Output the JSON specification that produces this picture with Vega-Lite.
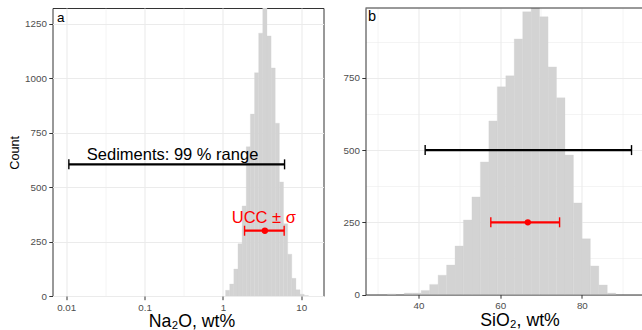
{
  "$schema": "https://vega.github.io/schema/vega-lite/v6.json",
  "padding": {"left": 7.5, "top": 7, "right": 0, "bottom": 0},
  "spacing": 18,
  "background": "white",
  "config": {
    "font": "Liberation Sans",
    "axis": {
      "labelFont": "Liberation Sans", "labelFontSize": 9.8, "labelColor": "#4D4D4D",
      "titleFont": "Liberation Sans", "titleFontWeight": "normal", "titleColor": "#000000",
      "tickColor": "#333333", "tickSize": 3.7, "tickWidth": 1, "labelPadding": 2.4,
      "gridColor": "#EBEBEB", "domainColor": "#333333", "domainWidth": 1
    },
    "view": {"stroke": "#333333", "strokeWidth": 1}
  },
  "datasets": {
    "na2o": [
      {"lo": 1.083, "hi": 1.223, "n": 26},
      {"lo": 1.223, "hi": 1.381, "n": 55},
      {"lo": 1.381, "hi": 1.560, "n": 124},
      {"lo": 1.560, "hi": 1.762, "n": 240},
      {"lo": 1.762, "hi": 1.990, "n": 414},
      {"lo": 1.990, "hi": 2.247, "n": 686},
      {"lo": 2.247, "hi": 2.538, "n": 836},
      {"lo": 2.538, "hi": 2.867, "n": 1026},
      {"lo": 2.867, "hi": 3.237, "n": 1208},
      {"lo": 3.237, "hi": 3.656, "n": 1400},
      {"lo": 3.656, "hi": 4.129, "n": 1195},
      {"lo": 4.129, "hi": 4.664, "n": 1048},
      {"lo": 4.664, "hi": 5.267, "n": 794},
      {"lo": 5.267, "hi": 5.949, "n": 524},
      {"lo": 5.949, "hi": 6.719, "n": 332},
      {"lo": 6.719, "hi": 7.589, "n": 192},
      {"lo": 7.589, "hi": 8.570, "n": 81},
      {"lo": 8.570, "hi": 9.678, "n": 29},
      {"lo": 9.678, "hi": 10.93, "n": 8},
      {"lo": 10.93, "hi": 12.35, "n": 2}
    ],
    "sio2": [
      {"lo": 32.374, "hi": 34.446, "n": 2},
      {"lo": 36.517, "hi": 38.589, "n": 5},
      {"lo": 38.589, "hi": 40.66, "n": 5},
      {"lo": 40.66, "hi": 42.732, "n": 14},
      {"lo": 42.732, "hi": 44.803, "n": 35},
      {"lo": 44.803, "hi": 46.875, "n": 67},
      {"lo": 46.875, "hi": 48.946, "n": 102},
      {"lo": 48.946, "hi": 51.018, "n": 168},
      {"lo": 51.018, "hi": 53.09, "n": 258},
      {"lo": 53.09, "hi": 55.161, "n": 338},
      {"lo": 55.161, "hi": 57.233, "n": 459},
      {"lo": 57.233, "hi": 59.304, "n": 601},
      {"lo": 59.304, "hi": 61.376, "n": 719},
      {"lo": 61.376, "hi": 63.448, "n": 757},
      {"lo": 63.448, "hi": 65.519, "n": 885},
      {"lo": 65.519, "hi": 67.591, "n": 979},
      {"lo": 67.591, "hi": 69.662, "n": 1010},
      {"lo": 69.662, "hi": 71.734, "n": 962},
      {"lo": 71.734, "hi": 73.806, "n": 788},
      {"lo": 73.806, "hi": 75.877, "n": 681},
      {"lo": 75.877, "hi": 77.949, "n": 483},
      {"lo": 77.949, "hi": 80.02, "n": 317},
      {"lo": 80.02, "hi": 82.092, "n": 193},
      {"lo": 82.092, "hi": 84.164, "n": 99},
      {"lo": 84.164, "hi": 86.235, "n": 33},
      {"lo": 86.235, "hi": 88.307, "n": 5}
    ],
    "barsA": [
      {"lo": 0.01081, "hi": 6.134, "mid": 0.2575, "y": 605, "color": "black"},
      {"lo": 1.892, "hi": 6.062, "mid": 3.437, "y": 300, "color": "red"}
    ],
    "barsB": [
      {"lo": 41.63, "hi": 92.17, "mid": 66.9, "y": 500, "color": "black"},
      {"lo": 57.71, "hi": 74.55, "mid": 66.77, "y": 250, "color": "red"}
    ],
    "textA": [
      {"x": 0.2279, "y": 627, "label": "Sediments: 99 % range", "color": "black"},
      {"x": 3.337, "y": 334, "label": "UCC ± σ", "color": "red"}
    ],
    "labA": [{"x": 0.006685, "y": 1323.5, "label": "a"}],
    "labB": [{"x": 27.02, "x2": 94.98, "y": 992, "label": "b"}]
  },
  "hconcat": [
    {
      "width": 271,
      "height": 288,
      "layer": [
        {
          "data": {"name": "na2o"},
          "mark": {"type": "rect", "color": "#D3D3D3", "stroke": "#D3D3D3", "strokeWidth": 0.3, "clip": true},
          "encoding": {
            "x": {
              "field": "lo", "type": "quantitative",
              "scale": {"type": "log", "domain": [0.006685, 19.27], "nice": false},
              "axis": {
                "title": "Na₂O, wt%", "titleFontSize": 17.7,
                "titleX": 139, "titleY": 30, "titleBaseline": "alphabetic",
                "values": [0.01, 0.0316228, 0.1, 0.316228, 1, 3.16228, 10],
                "labelExpr": "datum.value == 0.01 ? '0.01' : datum.value == 0.1 ? '0.1' : datum.value == 1 ? '1' : datum.value == 10 ? '10' : ''",
                "labelOverlap": false, "labelBound": false, "labelFlush": false,
                "domain": false, "grid": true,
                "gridWidth": {"condition": {"test": "indexof([0.01, 0.1, 1, 10], datum.value) < 0", "value": 0.55}, "value": 1.1},
                "tickOpacity": {"condition": {"test": "indexof([0.01, 0.1, 1, 10], datum.value) < 0", "value": 0}, "value": 1}
              }
            },
            "x2": {"field": "hi"},
            "y": {
              "field": "n", "type": "quantitative",
              "scale": {"domain": [0, 1323.5], "nice": false, "zero": true},
              "axis": {
                "title": "Count", "titleFontSize": 12.7,
                "titleX": -34, "titleY": 144.3, "titleBaseline": "alphabetic",
                "values": [0, 125, 250, 375, 500, 625, 750, 875, 1000, 1125, 1250],
                "format": "d",
                "labelExpr": "datum.value % 250 == 0 ? datum.label : ''",
                "labelOverlap": false,
                "domain": false, "grid": true,
                "gridWidth": {"condition": {"test": "datum.value % 250 != 0", "value": 0.55}, "value": 1.1},
                "tickOpacity": {"condition": {"test": "datum.value % 250 != 0", "value": 0}, "value": 1}
              }
            },
            "y2": {"datum": 0}
          }
        },
        {
          "data": {"name": "barsA"},
          "mark": {"type": "rule", "strokeWidth": 2.2},
          "encoding": {
            "x": {"field": "lo", "type": "quantitative"},
            "x2": {"field": "hi"},
            "y": {"field": "y", "type": "quantitative"},
            "color": {"field": "color", "type": "nominal", "scale": null}
          }
        },
        {
          "data": {"name": "barsA"},
          "mark": {"type": "tick", "orient": "vertical", "size": 10, "thickness": 1.4, "opacity": 1},
          "encoding": {
            "x": {"field": "lo", "type": "quantitative"},
            "y": {"field": "y", "type": "quantitative"},
            "color": {"field": "color", "type": "nominal", "scale": null}
          }
        },
        {
          "data": {"name": "barsA"},
          "mark": {"type": "tick", "orient": "vertical", "size": 10, "thickness": 1.4, "opacity": 1},
          "encoding": {
            "x": {"field": "hi", "type": "quantitative"},
            "y": {"field": "y", "type": "quantitative"},
            "color": {"field": "color", "type": "nominal", "scale": null}
          }
        },
        {
          "data": {"name": "barsA"},
          "transform": [{"filter": "datum.color == 'red'"}],
          "mark": {"type": "point", "filled": true, "size": 40, "opacity": 1, "color": "red"},
          "encoding": {
            "x": {"field": "mid", "type": "quantitative"},
            "y": {"field": "y", "type": "quantitative"}
          }
        },
        {
          "data": {"name": "textA"},
          "mark": {"type": "text", "fontSize": 16.5, "font": "Liberation Sans", "align": "center", "baseline": "alphabetic"},
          "encoding": {
            "x": {"field": "x", "type": "quantitative"},
            "y": {"field": "y", "type": "quantitative"},
            "text": {"field": "label"},
            "color": {"field": "color", "type": "nominal", "scale": null}
          }
        },
        {
          "data": {"name": "labA"},
          "mark": {"type": "text", "fontSize": 13.5, "font": "Liberation Sans", "align": "left", "baseline": "alphabetic", "dx": 4.5, "dy": 13.7, "color": "black"},
          "encoding": {
            "x": {"field": "x", "type": "quantitative"},
            "y": {"field": "y", "type": "quantitative"},
            "text": {"field": "label"}
          }
        }
      ]
    },
    {
      "width": 277.5,
      "height": 286.5,
      "view": {"stroke": null},
      "layer": [
        {
          "data": {"name": "sio2"},
          "mark": {"type": "rect", "color": "#D3D3D3", "stroke": "#D3D3D3", "strokeWidth": 0.3, "clip": true},
          "encoding": {
            "x": {
              "field": "lo", "type": "quantitative",
              "scale": {"domain": [27.02, 94.98], "nice": false, "zero": false},
              "axis": {
                "title": "SiO₂, wt%", "titleFontSize": 17.7,
                "titleX": 154, "titleY": 30.5, "titleBaseline": "alphabetic",
                "values": [30, 40, 50, 60, 70, 80, 90],
                "labelExpr": "datum.value % 20 == 0 ? datum.label : ''",
                "labelOverlap": false, "labelFlush": false,
                "domain": true, "grid": true,
                "gridWidth": {"condition": {"test": "datum.value % 20 != 0", "value": 0.55}, "value": 1.1},
                "tickOpacity": {"condition": {"test": "datum.value % 20 != 0", "value": 0}, "value": 1}
              }
            },
            "x2": {"field": "hi"},
            "y": {
              "field": "n", "type": "quantitative",
              "scale": {"domain": [0, 992], "nice": false, "zero": true},
              "axis": {
                "title": null,
                "values": [0, 125, 250, 375, 500, 625, 750, 875],
                "format": "d",
                "labelExpr": "datum.value % 250 == 0 ? datum.label : ''",
                "labelOverlap": false,
                "domain": true, "grid": true,
                "gridWidth": {"condition": {"test": "datum.value % 250 != 0", "value": 0.55}, "value": 1.1},
                "tickOpacity": {"condition": {"test": "datum.value % 250 != 0", "value": 0}, "value": 1}
              }
            },
            "y2": {"datum": 0}
          }
        },
        {
          "data": {"name": "labB"},
          "mark": {"type": "rule", "color": "#333333", "strokeWidth": 1},
          "encoding": {
            "x": {"field": "x", "type": "quantitative"},
            "x2": {"field": "x2"},
            "y": {"field": "y", "type": "quantitative"}
          }
        },
        {
          "data": {"name": "barsB"},
          "mark": {"type": "rule", "strokeWidth": 2.2},
          "encoding": {
            "x": {"field": "lo", "type": "quantitative"},
            "x2": {"field": "hi"},
            "y": {"field": "y", "type": "quantitative"},
            "color": {"field": "color", "type": "nominal", "scale": null}
          }
        },
        {
          "data": {"name": "barsB"},
          "mark": {"type": "tick", "orient": "vertical", "size": 10, "thickness": 1.4, "opacity": 1},
          "encoding": {
            "x": {"field": "lo", "type": "quantitative"},
            "y": {"field": "y", "type": "quantitative"},
            "color": {"field": "color", "type": "nominal", "scale": null}
          }
        },
        {
          "data": {"name": "barsB"},
          "mark": {"type": "tick", "orient": "vertical", "size": 10, "thickness": 1.4, "opacity": 1},
          "encoding": {
            "x": {"field": "hi", "type": "quantitative"},
            "y": {"field": "y", "type": "quantitative"},
            "color": {"field": "color", "type": "nominal", "scale": null}
          }
        },
        {
          "data": {"name": "barsB"},
          "transform": [{"filter": "datum.color == 'red'"}],
          "mark": {"type": "point", "filled": true, "size": 40, "opacity": 1, "color": "red"},
          "encoding": {
            "x": {"field": "mid", "type": "quantitative"},
            "y": {"field": "y", "type": "quantitative"}
          }
        },
        {
          "data": {"name": "labB"},
          "mark": {"type": "text", "fontSize": 14.5, "font": "Liberation Sans", "align": "left", "baseline": "alphabetic", "dx": 2.5, "dy": 13, "color": "black"},
          "encoding": {
            "x": {"field": "x", "type": "quantitative"},
            "y": {"field": "y", "type": "quantitative"},
            "text": {"field": "label"}
          }
        }
      ]
    }
  ]
}
